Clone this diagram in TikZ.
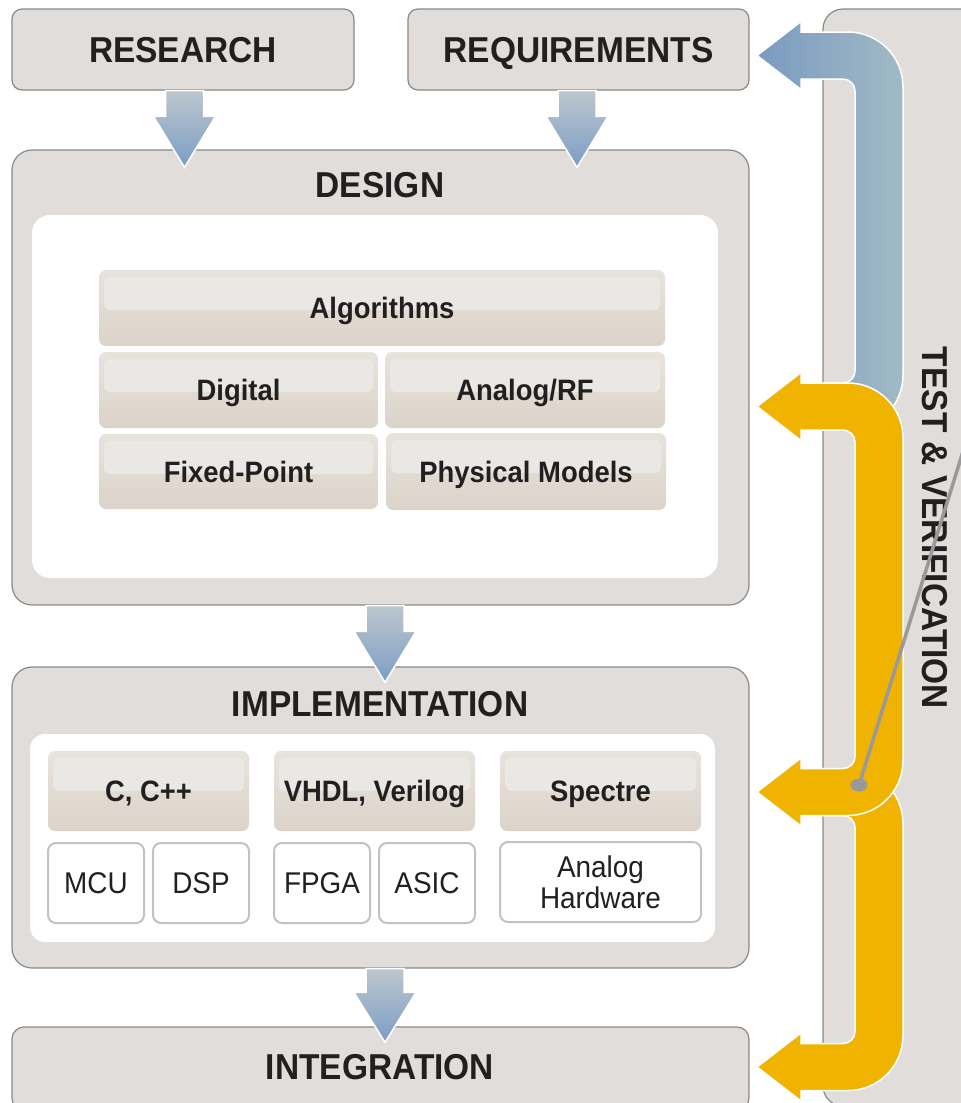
\documentclass[tikz,border=0pt]{standalone}
\usepackage{fontspec}
\setmainfont{Liberation Sans}[FakeStretch=0.93]
\usetikzlibrary{calc}
\definecolor{boxgray}{HTML}{E0DDDA}
\definecolor{boxline}{HTML}{8A8A8A}
\definecolor{txt}{HTML}{231F20}
\definecolor{yel}{HTML}{F0B400}
\definecolor{hl}{HTML}{EAE8E4}
\definecolor{subtop}{HTML}{E7E3DD}
\definecolor{subbot}{HTML}{DCD3C9}
\definecolor{hwline}{HTML}{C2C2C2}
\definecolor{arrtop}{HTML}{BCC6CD}
\definecolor{arrbot}{HTML}{7C9DC5}
\definecolor{bluel}{HTML}{7A9AC0}
\definecolor{bluer}{HTML}{A2BAC6}
\definecolor{pointer}{HTML}{999999}
\tikzset{
 stagebox/.style={draw=boxline, line width=1.2pt, fill=boxgray, inner sep=0pt},
 titletext/.style={text=txt, font=\fontsize{36}{40}\selectfont\bfseries, inner sep=0pt, text height=25.8pt, text depth=0pt},
 innerbox/.style={fill=white, inner sep=0pt, rounded corners=16pt},
 langbox/.style={top color=subtop, bottom color=subbot, inner sep=0pt, rounded corners=7pt,
   text=txt, font=\fontsize{29.5}{34}\selectfont\bfseries, text height=21pt, text depth=0pt,
   path picture={\fill[hl, rounded corners=6pt] ([xshift=5pt,yshift=-7pt]path picture bounding box.north west) rectangle ([xshift=-5pt,yshift=-40pt]path picture bounding box.north east);}},
 hwbox/.style={fill=white, draw=hwline, line width=2pt, rounded corners=8pt, inner sep=0pt,
   text=txt, font=\fontsize{30}{31}\selectfont, align=center},
 downarr/.style={draw=white, line width=1.5pt, top color=arrtop, bottom color=arrbot},
 bracketblue/.style={draw=white, line width=1.5pt, left color=bluel, right color=bluer},
 bracketyel/.style={draw=white, line width=1.5pt, fill=yel},
 pointerline/.style={draw=pointer, line width=3.5pt},
}
\newcommand{\stagearrow}[3]{%
 \path[downarr] let \p1=([xshift=#3]#1.south), \p2=([xshift=#3]#2.north) in
  ({\x1-19pt},{\y1}) -- ({\x1+19pt},{\y1}) -- ({\x1+19pt},{\y2+33pt}) -- ({\x1+31pt},{\y2+33pt})
  -- ({\x1},{\y2-18pt}) -- ({\x1-31pt},{\y2+33pt}) -- ({\x1-19pt},{\y2+33pt}) -- cycle;}
\newcommand{\tvbracket}[3]{%
 \path[#3] (757,#1) -- (801,{#1-34}) -- (801,{#1-23.5}) -- (848,{#1-23.5})
   .. controls (878.4,{#1-23.5}) and (903,{#1-23.5+24.6}) .. (903,{#1-23.5+55})
   -- (903,{#2+23.5-55}) .. controls (903,{#2+23.5-24.6}) and (878.4,{#2+23.5}) .. (848,{#2+23.5})
   -- (801,{#2+23.5}) -- (801,{#2+34}) -- (757,#2) -- (801,{#2-34}) -- (801,{#2-23.5})
   -- (843,{#2-23.5}) .. controls (849.6,{#2-23.5}) and (855,{#2-23.5-5.4}) .. (855,{#2-23.5-12})
   -- (855,{#1+23.5+12}) .. controls (855,{#1+23.5+5.4}) and (849.6,{#1+23.5}) .. (843,{#1+23.5})
   -- (801,{#1+23.5}) -- (801,{#1+34}) -- cycle;}
\begin{document}
\begin{tikzpicture}[x=1pt,y=-1pt]
\useasboundingbox (0,0) rectangle (961,1103);
\fill[white] (0,0) rectangle (961,1103);
\clip (0,0) rectangle (961,1103);
% test panel
\node[stagebox, rounded corners=20pt, minimum width=177pt, minimum height=1097pt] (panel) at (911.5,557.5) {};
% top boxes
\node[stagebox, titletext, rounded corners=10pt, minimum width=342pt, minimum height=81pt] (research) at (183,49.5) {RESEARCH};
\node[stagebox, titletext, rounded corners=10pt, minimum width=341pt, minimum height=81pt] (requirements) at (578.5,49.5) {REQUIREMENTS};
% design
\node[stagebox, rounded corners=20pt, minimum width=737pt, minimum height=455pt] (design) at (380.5,377.5) {};
\node[titletext] (designtitle) at (380,185) {DESIGN};
\node[innerbox, rounded corners=18pt, minimum width=686pt, minimum height=363pt] (designinner) at (375,396.5) {};
\node[langbox, minimum width=566pt, minimum height=76pt] (alg) at (382,308) {Algorithms};
\node[langbox, minimum width=279pt, minimum height=76pt] (digital) at (238.5,390) {Digital};
\node[langbox, minimum width=280pt, minimum height=76pt] (analog) at (525,390) {Analog/RF};
\node[langbox, minimum width=279pt, minimum height=75pt] (fixed) at (238.5,471.5) {Fixed-Point};
\node[langbox, minimum width=280pt, minimum height=77pt] (phys) at (526,471.5) {Physical Models};
% implementation
\node[stagebox, rounded corners=20pt, minimum width=737pt, minimum height=301pt] (impl) at (380.5,817.5) {};
\node[titletext] (impltitle) at (380,704) {IMPLEMENTATION};
\node[innerbox, rounded corners=15pt, minimum width=685pt, minimum height=208pt] (implinner) at (372.5,838) {};
\node[langbox, minimum width=201pt, minimum height=80pt] (cpp) at (148.5,791) {C, C++};
\node[langbox, minimum width=201pt, minimum height=80pt] (vhdl) at (374.5,791) {VHDL, Verilog};
\node[langbox, minimum width=201pt, minimum height=80pt] (spectre) at (600.5,791) {Spectre};
\node[hwbox, minimum width=96pt, minimum height=80pt] (mcu) at (96,883) {MCU};
\node[hwbox, minimum width=96pt, minimum height=80pt] (dsp) at (201,883) {DSP};
\node[hwbox, minimum width=96pt, minimum height=80pt] (fpga) at (322,883) {FPGA};
\node[hwbox, minimum width=96pt, minimum height=80pt] (asic) at (427,883) {ASIC};
\node[hwbox, minimum width=201pt, minimum height=80pt] (ahw) at (600.5,882) {Analog\\Hardware};
% integration
\node[stagebox, rounded corners=12pt, minimum width=737pt, minimum height=83pt] (integ) at (380.5,1068.5) {};
\node[titletext] (integtitle) at (380,1067) {INTEGRATION};
% stage arrows
\stagearrow{research}{design}{1.5pt}
\stagearrow{requirements}{design}{-1.5pt}
\path[downarr] let \p1=(design.south), \p2=(impl.north) in
  ({385pt-19pt},{\y1}) -- ({385pt+19pt},{\y1}) -- ({385pt+19pt},{\y2+35pt}) -- ({385pt+31pt},{\y2+35pt})
  -- ({385pt},{\y2-16pt}) -- ({385pt-31pt},{\y2+35pt}) -- ({385pt-19pt},{\y2+35pt}) -- cycle;
\path[downarr] let \p1=(impl.south), \p2=(integ.north) in
  ({385pt-19pt},{\y1}) -- ({385pt+19pt},{\y1}) -- ({385pt+19pt},{\y2+34pt}) -- ({385pt+31pt},{\y2+34pt})
  -- ({385pt},{\y2-16pt}) -- ({385pt-31pt},{\y2+34pt}) -- ({385pt-19pt},{\y2+34pt}) -- cycle;
% test & verification brackets
\tvbracket{55.5}{406.5}{bracketblue}
\tvbracket{792}{1067}{bracketyel}
\tvbracket{406.5}{792}{bracketyel}
\node[titletext, rotate=-90] (testtitle) at (935,528) {TEST \& VERIFICATION};
% pointer
\coordinate (pdot) at (859,785);
\coordinate (pend) at (980,397);
\draw[pointerline] (pdot) -- (pend);
\fill[pointer] (pdot) ellipse [x radius=8.5pt, y radius=6.5pt];
\end{tikzpicture}
\end{document}
